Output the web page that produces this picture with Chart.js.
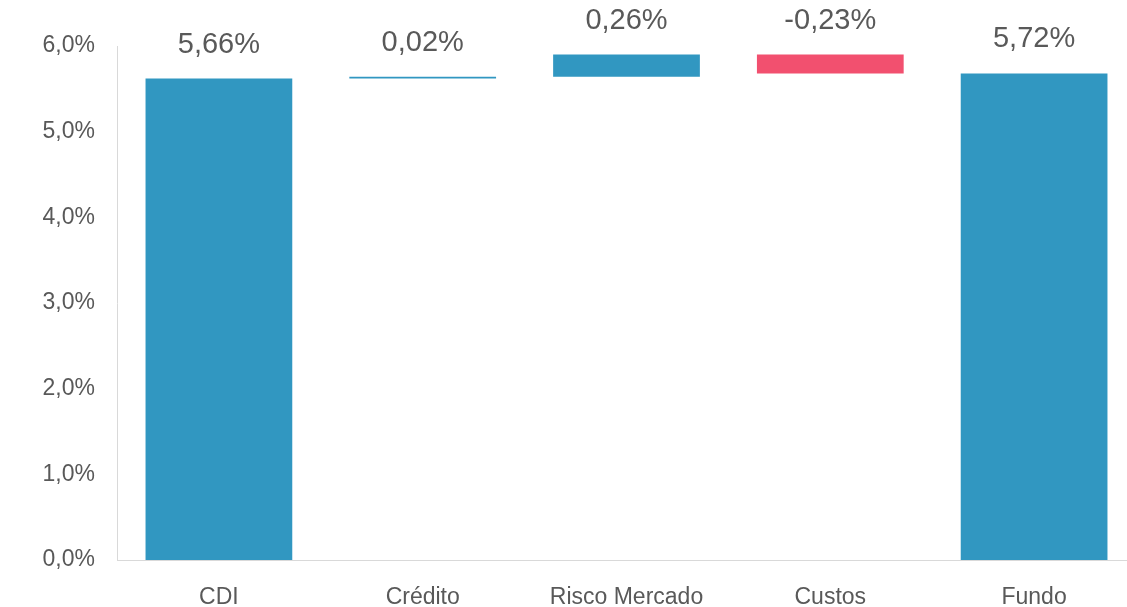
<!DOCTYPE html>
<html>
<head>
<meta charset="utf-8">
<script src="https://cdn.jsdelivr.net/npm/chart.js@4/dist/chart.umd.min.js"></script>
<style>
html,body{margin:0;padding:0;background:#fff;overflow:hidden;width:1127px;height:607px;}
#wrap{width:1136px;height:607px;position:relative;}
</style>
</head>
<body>
<div id="wrap"><canvas id="c"></canvas></div>
<script>
const categories = ["CDI", "Crédito", "Risco Mercado", "Custos", "Fundo"];
const barStart = [0, 5.62, 5.64, 5.90, 0];
const barEnd = [5.62, 5.64, 5.90, 5.68, 5.68];
const valueLabels = ["5,66%", "0,02%", "0,26%", "-0,23%", "5,72%"];
const yTicks = [0, 1, 2, 3, 4, 5, 6];

const BLUE = "#3197C1";
const RED = "#F2506F";
const TEXT = "#595959";
const FONT = "'Liberation Sans', Arial, sans-serif";

const labelPlugin = {
  id: "valueLabels",
  afterDatasetsDraw(chart) {
    const ctx = chart.ctx;
    const meta = chart.getDatasetMeta(0);
    ctx.save();
    ctx.font = "29px " + FONT;
    ctx.fillStyle = TEXT;
    ctx.textAlign = "center";
    ctx.textBaseline = "middle";
    meta.data.forEach((bar, i) => {
      const top = Math.min(bar.y, bar.base);
      ctx.fillText(valueLabels[i], bar.x, top - 34);
    });
    ctx.restore();
  }
};

new Chart(document.getElementById("c"), {
  type: "bar",
  data: {
    labels: categories,
    datasets: [{
      data: categories.map((_, i) => [barStart[i], barEnd[i]]),
      backgroundColor: categories.map((_, i) => barEnd[i] < barStart[i] ? RED : BLUE),
      borderWidth: 0,
      categoryPercentage: 1,
      barPercentage: 0.72
    }]
  },
  options: {
    responsive: true,
    maintainAspectRatio: false,
    animation: false,
    layout: { padding: { top: 46, right: 0, left: 0, bottom: 0 } },
    plugins: { legend: { display: false }, tooltip: { enabled: false } },
    scales: {
      x: {
        grid: { display: false },
        border: { display: true, color: "#D9D9D9", width: 1 },
        ticks: { color: TEXT, font: { family: FONT, size: 23 }, padding: 16 },
        afterFit(s) { s.height = 47; }
      },
      y: {
        min: 0, max: 6,
        afterBuildTicks(s) { s.ticks = yTicks.map(v => ({ value: v })); },
        grid: { display: false },
        border: { display: true, color: "#D9D9D9", width: 1 },
        ticks: {
          color: TEXT, font: { family: FONT, size: 23 }, padding: 14,
          callback: v => v.toFixed(1).replace(".", ",") + "%"
        },
        afterFit(s) { s.width = 117; }
      }
    }
  },
  plugins: [labelPlugin]
});
</script>
</body>
</html>
